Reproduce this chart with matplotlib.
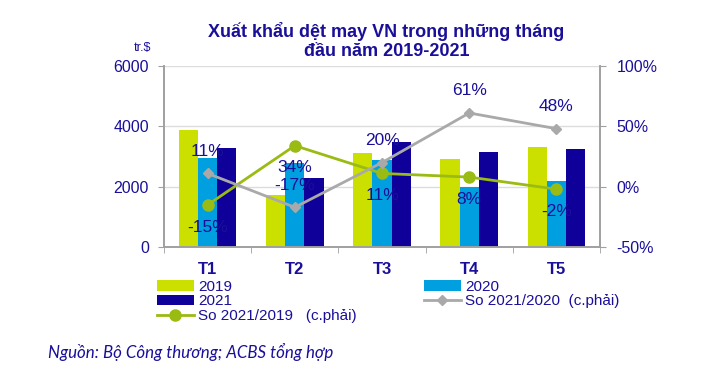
import matplotlib.pyplot as plt
import numpy as np
from matplotlib.ticker import FixedLocator, FuncFormatter

plt.rcParams['font.family'] = ['Liberation Sans', 'DejaVu Sans']

months = ["T1", "T2", "T3", "T4", "T5"]
exp_2019 = [3880, 1720, 3120, 2920, 3320]
exp_2020 = [2940, 2780, 2900, 1980, 2190]
exp_2021 = [3270, 2300, 3480, 3160, 3260]
pct_21_19 = [-15, 34, 11, 8, -2]
pct_21_20 = [11, -17, 20, 61, 48]

navy = "#1a0f99"
c2019 = "#cce000"
c2020 = "#009fdf"
c2021 = "#0f0099"
cgreen = "#9abb14"
cgray = "#a9a9a9"
axis_gray = "#a0a0a0"

fig = plt.figure(figsize=(7.01, 3.74), dpi=100)
ax = fig.add_axes([0.234, 0.339, 0.622, 0.485])
ax2 = ax.twinx()

x = np.arange(len(months))
w = 0.22
b1 = ax.bar(x - w, exp_2019, w, color=c2019, label="2019", zorder=2)
b2 = ax.bar(x, exp_2020, w, color=c2020, label="2020", zorder=2)
b3 = ax.bar(x + w, exp_2021, w, color=c2021, label="2021", zorder=2)

ax.set_ylim(0, 6000)
ax.set_xlim(-0.5, len(months) - 0.5)
ax.set_yticks([0, 2000, 4000, 6000])
ax.yaxis.grid(True, color="#dcdcdc", lw=1)
ax.set_axisbelow(True)
ax.set_xticks(x)
ax.set_xticklabels(months, fontsize=12, fontweight="bold", color=navy)
ax.xaxis.set_minor_locator(FixedLocator(np.arange(-0.5, len(months), 1)))
ax.tick_params(axis="x", which="major", length=0, pad=11)
ax.tick_params(axis="x", which="minor", length=4, color=axis_gray, direction="out")
ax.tick_params(axis="y", labelsize=11.5, labelcolor=navy, color=axis_gray, length=4, pad=7)

ax2.set_ylim(-50, 100)
ax2.set_yticks([-50, 0, 50, 100])
ax2.yaxis.set_major_formatter(FuncFormatter(lambda v, p: f"{int(v)}%"))
ax2.tick_params(axis="y", labelsize=11.5, labelcolor=navy, color=axis_gray, length=4, pad=8)

for a in (ax, ax2):
    a.spines["top"].set_visible(False)
    for s in ("left", "right", "bottom"):
        a.spines[s].set_color(axis_gray)
        a.spines[s].set_linewidth(1.2)

l1, = ax2.plot(x, pct_21_19, color=cgreen, lw=2, marker="o", ms=8,
               label="So 2021/2019   (c.phải)", zorder=4)
l2, = ax2.plot(x, pct_21_20, color=cgray, lw=2, marker="D", ms=5,
               label="So 2021/2020  (c.phải)", zorder=4)

for xi, v in zip(x, pct_21_19):
    ax2.annotate(f"{v}%", (xi, v), xytext=(0, -16), textcoords="offset points",
                 ha="center", va="center", fontsize=12.5, color=navy, zorder=5)
for xi, v in zip(x, pct_21_20):
    ax2.annotate(f"{v}%", (xi, v), xytext=(0, 16), textcoords="offset points",
                 ha="center", va="center", fontsize=12.5, color=navy, zorder=5)

fig.legend(handles=[b1, b3, l1, b2, l2], loc="upper left",
           bbox_to_anchor=(0.213, 0.273), ncol=2, frameon=False,
           fontsize=11, labelcolor=navy, handlelength=2.4, handletextpad=0.3,
           columnspacing=4.4, labelspacing=0.05, borderpad=0)

fig.text(0.551, 0.94, "Xuất khẩu dệt may VN trong những tháng\nđầu năm 2019-2021",
         ha="center", va="top", fontsize=13, fontweight="bold", color=navy,
         linespacing=1.15)
fig.text(0.204, 0.872, "tr.$", ha="center", va="center", fontsize=9, color=navy)
fig.text(0.068, 0.058, "Nguồn: Bộ Công thương; ACBS tổng hợp", ha="left", va="center",
         fontsize=12.2, style="italic", color=navy, family=["Lato", "DejaVu Sans"])

fig.savefig("out.png", dpi=100)
